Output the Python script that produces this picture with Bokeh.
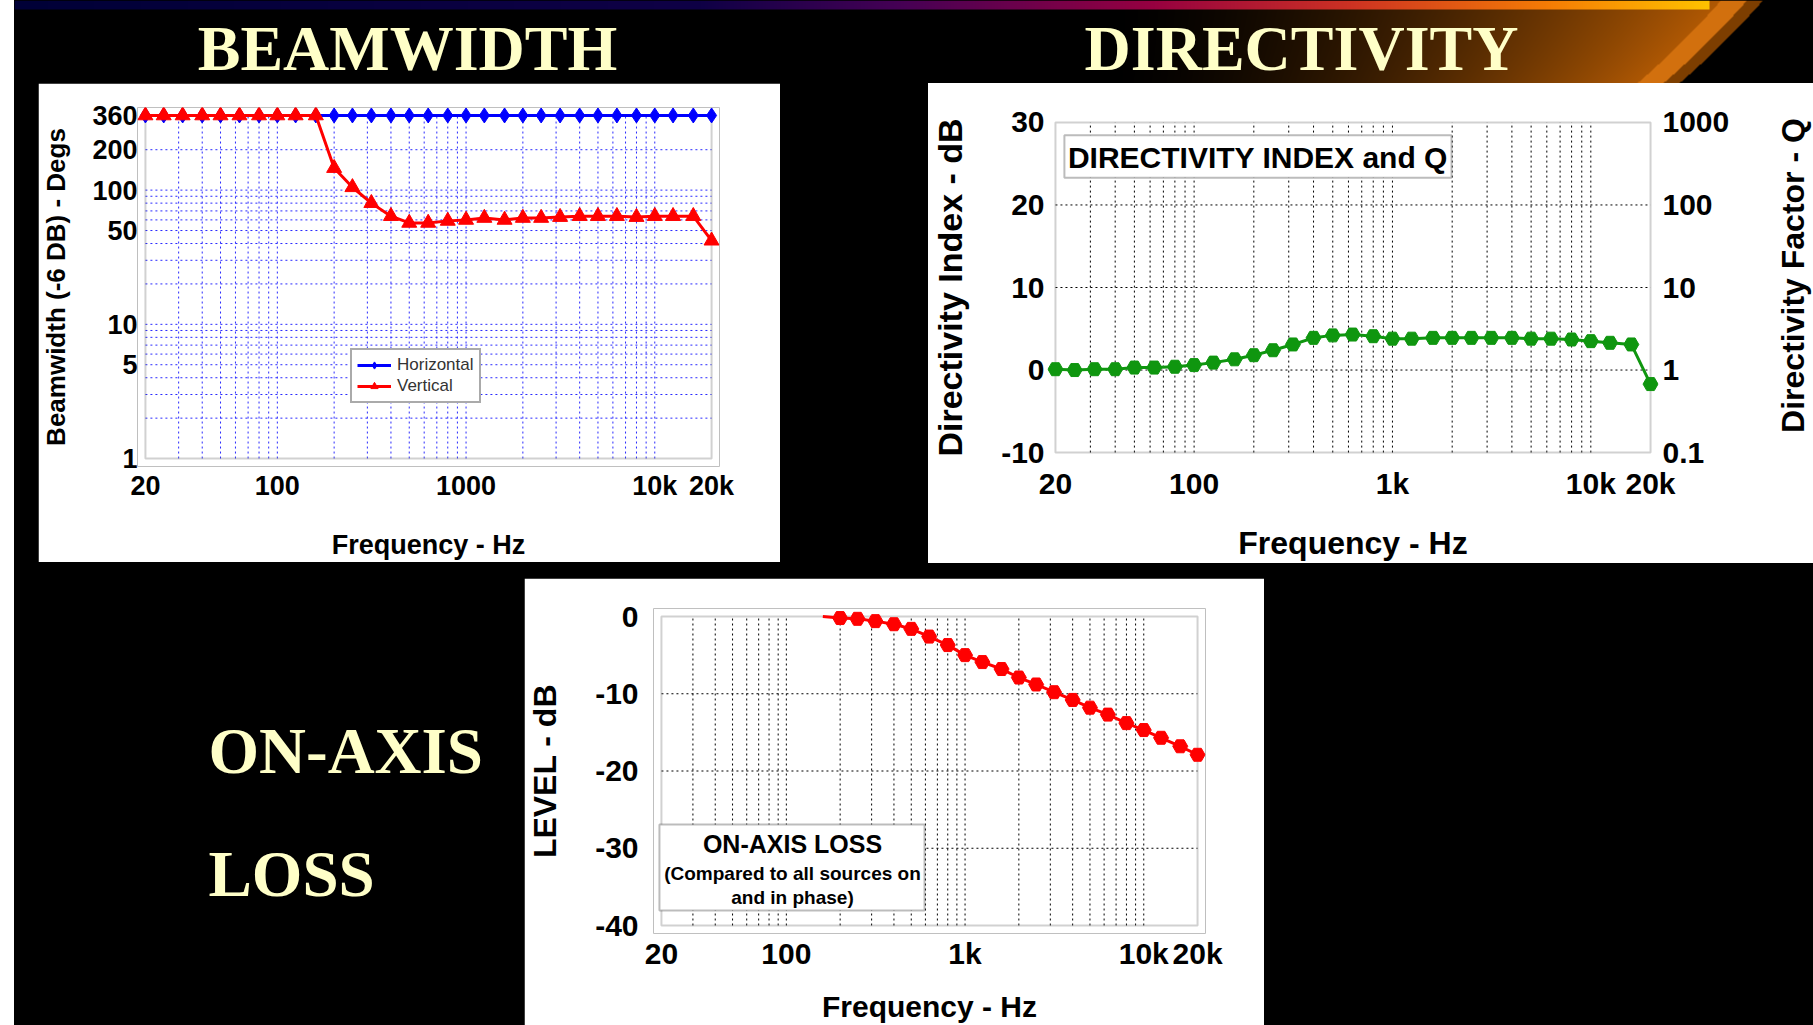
import numpy as np
from bokeh.plotting import figure
from bokeh.models import (Range1d, LogAxis, LogScale, FixedTicker, Legend, LegendItem,
                          Label, BoxAnnotation, Spacer)
from bokeh.layouts import column, row
from bokeh.embed import file_html
from bokeh.resources import INLINE

# ---------------- data ----------------
FREQ = [20, 25, 31.5, 40, 50, 63, 80, 100, 125, 160, 200, 250, 315, 400, 500, 630,
        800, 1000, 1250, 1600, 2000, 2500, 3150, 4000, 5000, 6300, 8000, 10000,
        12500, 16000, 20000]
BEAM_H = [360, 360, 360, 360, 360, 360, 360, 360, 360, 360, 360, 360, 360, 360, 360,
          360, 360, 360, 360, 360, 360, 360, 360, 360, 360, 360, 360, 360, 360, 360, 360]
BEAM_V = [360, 360, 360, 360, 360, 360, 360, 360, 360, 360, 146, 105, 80, 64, 57, 57,
          59, 60, 62, 60, 62, 62, 63, 64, 64, 64, 63, 64, 64, 64, 42]
DI = [0.1, 0.0, 0.1, 0.1, 0.3, 0.3, 0.4, 0.6, 0.9, 1.3, 1.8, 2.4, 3.1, 3.9, 4.2, 4.3,
      4.1, 3.8, 3.8, 3.9, 3.9, 3.9, 3.9, 3.9, 3.8, 3.8, 3.7, 3.5, 3.3, 3.1, -1.7]
LOSS_FREQ = [160, 200, 250, 315, 400, 500, 630, 800, 1000, 1250, 1600, 2000, 2500,
             3150, 4000, 5000, 6300, 8000, 10000, 12500, 16000, 20000]
LOSS = [0.0, -0.2, -0.3, -0.6, -1.0, -1.6, -2.6, -3.7, -5.0, -5.9, -6.8, -7.9, -8.8,
        -9.8, -10.8, -11.8, -12.7, -13.8, -14.7, -15.7, -16.8, -17.9]

X_TICKS = [20, 100, 1000, 10000, 20000]
BEAM_X_LABELS = ["20", "100", "1000", "10k", "20k"]
DIR_X_LABELS = ["20", "100", "1k", "10k", "20k"]
BEAM_Y_TICKS = [1, 5, 10, 50, 100, 200, 360]
BEAM_Y_LABELS = ["1", "5", "10", "50", "100", "200", "360"]
DI_TICKS = [-10, 0, 10, 20, 30]
DI_LABELS = ["-10", "0", "10", "20", "30"]
Q_TICKS = [0.1, 1, 10, 100, 1000]
Q_LABELS = ["0.1", "1", "10", "100", "1000"]
LOSS_TICKS = [-40, -30, -20, -10, 0]
LOSS_LABELS = ["-40", "-30", "-20", "-10", "0"]

FONT = "Liberation Sans"
BG = {"background-color": "black"}
WHITE = {"background-color": "white"}
CREAM = "#FFFFC8"
LEFT_STRIP = 14


def grid_freqs():
    out = []
    for d in (1, 2, 3):
        for k in range(1, 10):
            f = k * 10 ** d
            if f > 20:
                out.append(f)
    out.append(10000)
    return out


def chart(panel, box, xr, yr, ylog, pad=8):
    px, py, w, h = panel
    L, R, T, B = box
    x0, x1 = xr
    y0, y1 = yr
    lx0, lx1 = np.log10(x0), np.log10(x1)
    xpp = (lx1 - lx0) / (R - L)
    xrange = Range1d(10 ** (lx0 - pad * xpp), 10 ** (lx1 + pad * xpp))
    if ylog:
        ly0, ly1 = np.log10(y0), np.log10(y1)
        ypp = (ly1 - ly0) / (B - T)
        yrange = Range1d(10 ** (ly0 - pad * ypp), 10 ** (ly1 + pad * ypp))
    else:
        ypp = (y1 - y0) / (B - T)
        yrange = Range1d(y0 - pad * ypp, y1 + pad * ypp)
    p = figure(width=w, height=h, x_range=xrange, y_range=yrange,
               x_axis_type="log", y_axis_type="log" if ylog else "linear",
               toolbar_location=None, output_backend="svg",
               min_border_left=int(round(L - pad - px)),
               min_border_right=int(round(px + w - (R + pad))),
               min_border_top=int(round(T - pad - py)),
               min_border_bottom=int(round(py + h - (B + pad))),
               background_fill_color="white", border_fill_color="white",
               outline_line_color=None)
    p.grid.visible = False

    def fx(sx):
        return 10 ** (lx0 + (sx - L) * xpp)

    def fy(sy):
        if ylog:
            return 10 ** (ly1 - (sy - T) * ypp)
        return y1 - (sy - T) * ypp
    return p, fx, fy


def style_axis(ax, size, standoff, lsize, lstandoff):
    ax.major_label_text_font = FONT
    ax.major_label_text_font_style = "bold"
    ax.major_label_text_font_size = f"{size}px"
    ax.major_label_text_color = "black"
    ax.major_label_standoff = standoff
    ax.axis_label_text_font = FONT
    ax.axis_label_text_font_style = "bold"
    ax.axis_label_text_font_size = f"{lsize}px"
    ax.axis_label_text_color = "black"
    ax.axis_label_standoff = lstandoff
    ax.axis_line_color = None
    ax.major_tick_line_color = None
    ax.minor_tick_line_color = None
    ax.major_tick_out = 0
    ax.major_tick_in = 0
    ax.minor_tick_out = 0
    ax.minor_tick_in = 0


def frame_and_grid(p, xr, yr, vx, hy, color, dash):
    ylo, yhi = yr
    xlo, xhi = xr
    p.segment(x0=vx, y0=[ylo] * len(vx), x1=vx, y1=[yhi] * len(vx),
              line_color=color, line_width=1, line_dash=dash, level="underlay")
    if hy:
        p.segment(x0=[xlo] * len(hy), y0=hy, x1=[xhi] * len(hy), y1=hy,
                  line_color=color, line_width=1, line_dash=dash, level="underlay")
    p.add_layout(BoxAnnotation(left=xlo, right=xhi, bottom=ylo, top=yhi,
                               fill_color=None, line_color="#666666", line_width=2,
                               level="underlay"))


def blank(x0, x1, y0, y1, color):
    f = figure(width=x1 - x0, height=y1 - y0, x_range=Range1d(x0, x1),
               y_range=Range1d(0, y1 - y0), x_axis_location=None, y_axis_location=None,
               toolbar_location=None, output_backend="svg", min_border=0,
               background_fill_color=color, border_fill_color=color,
               outline_line_color=None)
    f.grid.visible = False
    return f


def solo(item, styles=BG):
    # wrap a figure on its own so that a row does not align its frame with its neighbours
    return column(item, styles=styles)


# ---------------- header (gradient bar, glow, titles) ----------------
HX0, HX1, HH = LEFT_STRIP, 1813, 83
HW = HX1 - HX0
xs = np.arange(HW) + HX0 + 0.5
ys = np.arange(HH) + 0.5
XX, YY = np.meshgrid(xs, ys)
rgb = np.zeros((HH, HW, 3))
arc = 1125 + np.sqrt(np.clip(720000 - (YY + 560) ** 2, 0, None))
dd = arc - XX
tt = np.clip((XX - 1100) / (arc - 1100), 0, 1) ** 1.6
inside = dd > 0
base = np.stack([195 * tt, 98 * tt, 4 * tt], axis=-1)
rgb[inside] = base[inside]
rgb[inside & (dd < 16)] = [125, 62, 0]
rgb[inside & (dd >= 16) & (dd < 42)] = [210, 112, 14]
sx_ = [0, 700, 900, 1150, 1350, 1550, 1709]
sc_ = [(0, 0, 55), (15, 0, 70), (70, 0, 85), (150, 0, 65), (205, 50, 35), (245, 125, 5), (255, 195, 0)]
bar = (YY < 9) & (XX < 1709)
for ch in range(3):
    rgb[..., ch] = np.where(bar, np.interp(XX, sx_, [c[ch] for c in sc_]), rgb[..., ch])
img = np.zeros((HH, HW), dtype=np.uint32)
view = img.view(dtype=np.uint8).reshape((HH, HW, 4))
view[..., :3] = rgb.astype(np.uint8)
view[..., 3] = 255
img = np.ascontiguousarray(img[::-1])

header = blank(HX0, HX1, 0, HH, "black")
header.image_rgba(image=[img], x=HX0, y=0, dw=HW, dh=HH)
for txt, cx in (("BEAMWIDTH", 407), ("DIRECTIVITY", 1301)):
    header.add_layout(Label(x=cx, y=HH - 48, text=txt, text_font="Liberation Serif",
                            text_font_style="bold", text_font_size="64px",
                            text_color=CREAM, text_align="center",
                            text_baseline="middle"))

# ---------------- beamwidth ----------------
bw_xr, bw_yr = (20, 20000), (1, 360)
beam, bfx, bfy = chart((38, 83, 742, 479), (139, 711, 115, 460), bw_xr, bw_yr, True)
frame_and_grid(beam, bw_xr, bw_yr, grid_freqs(),
               [k * 10 ** d for d in (0, 1, 2) for k in range(1, 10) if 1 < k * 10 ** d <= 200],
               "#2a2aff", "2 3")
beam.xaxis.ticker = FixedTicker(ticks=X_TICKS, minor_ticks=[])
beam.xaxis.major_label_overrides = dict(zip(X_TICKS, BEAM_X_LABELS))
beam.yaxis.ticker = FixedTicker(ticks=BEAM_Y_TICKS, minor_ticks=[])
beam.yaxis.major_label_overrides = dict(zip(BEAM_Y_TICKS, BEAM_Y_LABELS))
beam.xaxis.axis_label = "Frequency - Hz"
beam.yaxis.axis_label = "Beamwidth (-6 DB) - Degs"
style_axis(beam.xaxis[0], 27, 4, 27, 26)
style_axis(beam.yaxis[0], 27, 0, 26, 18)
hl = beam.line(FREQ, BEAM_H, line_color="#0000ff", line_width=3)
hs = beam.scatter(FREQ, BEAM_H, marker="diamond", size=15, color="#0000ff")
vl = beam.line(FREQ, BEAM_V, line_color="#ff0000", line_width=3)
vs = beam.scatter(FREQ, BEAM_V, marker="triangle", size=15, color="#ff0000")
leg = Legend(items=[LegendItem(label="Horizontal", renderers=[hl, hs]),
                    LegendItem(label="Vertical", renderers=[vl, vs])],
             location=(213, 63), label_text_font=FONT, label_text_font_size="17px",
             label_text_color="#333333", border_line_color="#555555", border_line_width=2,
             background_fill_color="white", background_fill_alpha=1, glyph_width=34,
             glyph_height=18, label_height=18, padding=5, spacing=1, margin=0,
             label_standoff=6)
beam.add_layout(leg)

# ---------------- directivity ----------------
di_xr, di_yr = (20, 20000), (-10, 30)
DIR_RIGHT = 1760
dirp, dfx, dfy = chart((928, 83, DIR_RIGHT - 928, 480), (1052, 1650, 122, 456), di_xr, di_yr, False)
frame_and_grid(dirp, di_xr, di_yr, grid_freqs(), [0, 10, 20], "#000000", "2 3")
dirp.xaxis.ticker = FixedTicker(ticks=X_TICKS, minor_ticks=[])
dirp.xaxis.major_label_overrides = dict(zip(X_TICKS, DIR_X_LABELS))
dirp.yaxis.ticker = FixedTicker(ticks=DI_TICKS, minor_ticks=[])
dirp.yaxis.major_label_overrides = dict(zip(DI_TICKS, DI_LABELS))
dirp.xaxis.axis_label = "Frequency - Hz"
dirp.yaxis.axis_label = "Directivity Index - dB"
style_axis(dirp.xaxis[0], 30, 6, 32, 22)
style_axis(dirp.yaxis[0], 30, 3, 34, 29)
dirp.extra_y_ranges = {"q": Range1d(10 ** (dirp.y_range.start / 10), 10 ** (dirp.y_range.end / 10))}
dirp.extra_y_scales = {"q": LogScale()}
qax = LogAxis(y_range_name="q", ticker=FixedTicker(ticks=Q_TICKS, minor_ticks=[]))
qax.major_label_overrides = dict(zip(Q_TICKS, Q_LABELS))
style_axis(qax, 30, 4, 28, 10)
dirp.add_layout(qax, "right")
dirp.line(FREQ, DI, line_color="#0f960f", line_width=3)
dirp.scatter(FREQ, DI, marker="hex", size=15, color="#0f960f")
dirp.add_layout(BoxAnnotation(left=dfx(1061), right=dfx(1450), top=dfy(135), bottom=dfy(178),
                              fill_color="white", fill_alpha=1, line_color="#222222",
                              line_width=2))
dirp.add_layout(Label(x=dfx(1255.5), y=dfy(157), text="DIRECTIVITY INDEX and Q",
                      text_font=FONT, text_font_style="bold", text_font_size="30px",
                      text_color="black", text_align="center", text_baseline="middle"))

# right-hand axis title of the directivity panel
qlab = blank(DIR_RIGHT, 1813, 83, 563, "white")
qlab.add_layout(Label(x=1792, y=563 - 275, text="Directivity Factor - Q",
                      angle=float(np.pi / 2), text_font=FONT, text_font_style="bold",
                      text_font_size="32px", text_color="black", text_align="center",
                      text_baseline="middle"))

# ---------------- on-axis loss ----------------
oa_xr, oa_yr = (20, 20000), (-40, 0)
onax, ofx, ofy = chart((524, 578, 740, 447), (657, 1197, 616, 925), oa_xr, oa_yr, False)
frame_and_grid(onax, oa_xr, oa_yr, grid_freqs(), [-30, -20, -10], "#000000", "2 3")
onax.xaxis.ticker = FixedTicker(ticks=X_TICKS, minor_ticks=[])
onax.xaxis.major_label_overrides = dict(zip(X_TICKS, DIR_X_LABELS))
onax.yaxis.ticker = FixedTicker(ticks=LOSS_TICKS, minor_ticks=[])
onax.yaxis.major_label_overrides = dict(zip(LOSS_TICKS, LOSS_LABELS))
onax.xaxis.axis_label = "Frequency - Hz"
onax.yaxis.axis_label = "LEVEL - dB"
style_axis(onax.xaxis[0], 30, 3, 30, 17)
style_axis(onax.yaxis[0], 30, 15, 32, 29)
onax.line(LOSS_FREQ, LOSS, line_color="#ff0000", line_width=3)
onax.scatter(LOSS_FREQ[1:], LOSS[1:], marker="hex", size=15, color="#ff0000")
onax.add_layout(BoxAnnotation(left=ofx(655), right=ofx(922), top=ofy(824), bottom=ofy(910),
                              fill_color="white", fill_alpha=1, line_color="#222222",
                              line_width=2))
for txt, cy, fs in (("ON-AXIS LOSS", 843, "25px"),
                    ("(Compared to all sources on", 873, "19px"),
                    ("and in phase)", 897, "19px")):
    onax.add_layout(Label(x=ofx(789), y=ofy(cy), text=txt, text_font=FONT,
                          text_font_style="bold", text_font_size=fs, text_color="black",
                          text_align="center", text_baseline="middle"))

# ---------------- ON-AXIS LOSS title ----------------
TY0, TY1 = 563, 1025
tfig = blank(LEFT_STRIP, 524, TY0, TY1, "black")
for txt, mid_y in (("ON-AXIS", 750), ("LOSS", 873)):
    tfig.add_layout(Label(x=208, y=TY1 - mid_y, text=txt, text_font="Liberation Serif",
                          text_font_style="bold", text_font_size="65px", text_color=CREAM,
                          text_align="left", text_baseline="middle"))

# ---------------- layout ----------------
dir_block = row(solo(dirp, WHITE), solo(qlab, WHITE), styles=WHITE)
row2 = row(Spacer(width=38 - LEFT_STRIP, height=480, styles=BG), solo(beam),
           Spacer(width=148, height=480, styles=BG), dir_block, styles=BG)
row3 = row(solo(tfig), column(Spacer(width=740, height=15, styles=BG), onax, styles=BG),
           Spacer(width=1813 - 1264, height=TY1 - TY0, styles=BG), styles=BG)
main = column(header, row2, row3, styles=BG)
root = row(Spacer(width=LEFT_STRIP, height=1025, styles=WHITE), main, styles=BG)

open("out.html", "w").write(file_html(root, INLINE, title="Beamwidth / Directivity / On-axis loss"))
